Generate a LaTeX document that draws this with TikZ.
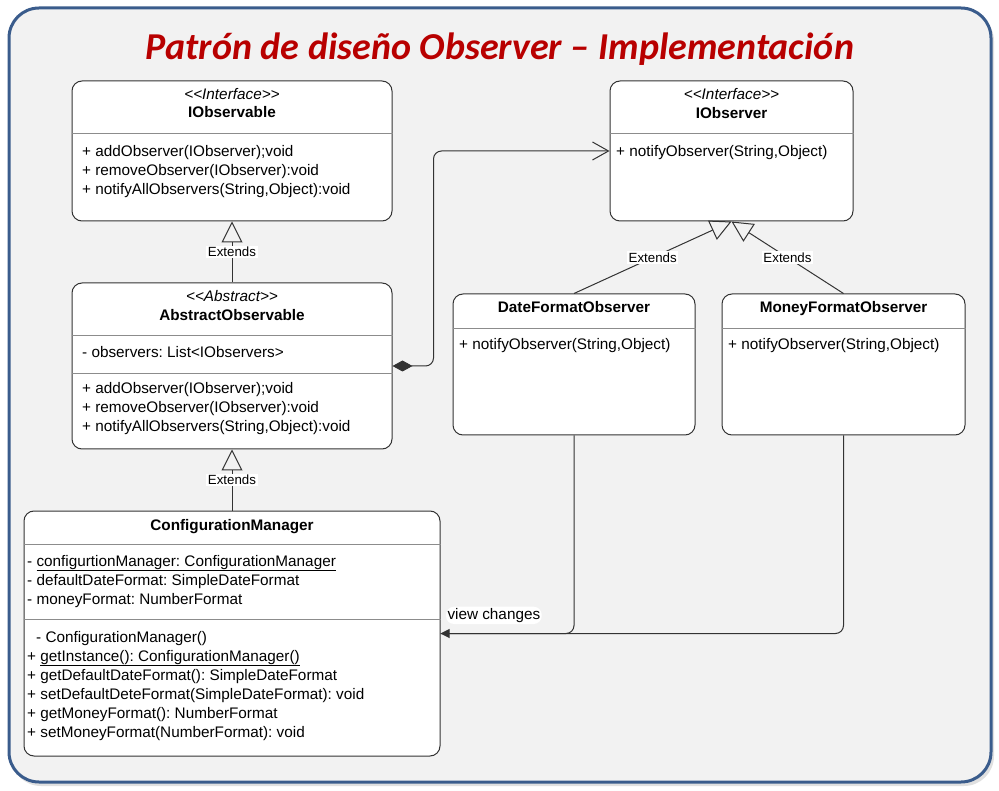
\documentclass[tikz,border=0pt]{standalone}
\usepackage{fontspec}
\setmainfont{Liberation Sans}
\newfontfamily\titlefont{Carlito}
\usetikzlibrary{arrows.meta}
\frenchspacing

\definecolor{framebg}{HTML}{F2F2F2}
\definecolor{frameline}{HTML}{3A5C8C}
\definecolor{titlered}{HTML}{B80000}
\definecolor{boxline}{HTML}{333333}
\definecolor{divline}{HTML}{8C8C8C}

\begin{document}
\begin{tikzpicture}[x=1pt, y=-1pt,
  every node/.style={font=\fontsize{15.3}{18}\selectfont},
  classbox/.style={draw=boxline, line width=1pt, fill=white, rounded corners=10pt, inner sep=0pt},
  divider/.style={draw=divline, line width=0.8pt},
  member/.style={anchor=base west, inner sep=0pt},
  stereotype/.style={anchor=base, inner sep=0pt, font=\fontsize{15.3}{18}\selectfont\itshape},
  classname/.style={anchor=base, inner sep=0pt, font=\fontsize{15.3}{18}\selectfont\bfseries},
  extends/.style={draw=boxline, line width=1pt, -{Triangle[open, length=21pt, width=21pt]}},
  extlabel/.style={fill=white, inner sep=1.5pt, font=\fontsize{13.3}{15}\selectfont},
  link/.style={draw=boxline, line width=1pt, rounded corners=8pt}
]
\useasboundingbox (0,0) rectangle (999,791);

% frame and title
\fill[black!12, rounded corners=30pt] (11,11) rectangle (994,786);
\draw[frameline, line width=3pt, fill=framebg, rounded corners=30pt] (9,8) rectangle (991,782);
\node (title) [anchor=base, text=titlered, font=\titlefont\fontsize{38}{40}\selectfont\bfseries\itshape] at (500,60) {Patrón de diseño Observer – Implementación};

% IObservable
\node (iobservable) [classbox, minimum width=320pt, minimum height=140pt] at (232,151) {};
\draw[divider] (iobservable.west |- 0,133) -- (iobservable.east |- 0,133);
\node (iobservable-st) [stereotype] at (232,100) {{<}{<}Interface{>}{>}};
\node (iobservable-nm) [classname] at (232,118) {IObservable};
\node (iobservable-m1) [member] at (82,157) {+ addObserver(IObserver);void};
\node (iobservable-m2) [member] at (82,176) {+ removeObserver(IObserver):void};
\node (iobservable-m3) [member] at (82,195) {+ notifyAllObservers(String,Object):void};

% IObserver
\node (iobserver) [classbox, minimum width=243pt, minimum height=140pt] at (731.5,151) {};
\draw[divider] (iobserver.west |- 0,133) -- (iobserver.east |- 0,133);
\node (iobserver-st) [stereotype] at (731.5,100) {{<}{<}Interface{>}{>}};
\node (iobserver-nm) [classname] at (731.5,119) {IObserver};
\node (iobserver-m1) [member] at (616,157) {+ notifyObserver(String,Object)};

% AbstractObservable
\node (aobs) [classbox, minimum width=320pt, minimum height=166pt] at (232,366) {};
\draw[divider] (aobs.west |- 0,335) -- (aobs.east |- 0,335);
\draw[divider] (aobs.west |- 0,373) -- (aobs.east |- 0,373);
\node (aobs-st) [stereotype] at (232,302) {{<}{<}Abstract{>}{>}};
\node (aobs-nm) [classname] at (232,321) {AbstractObservable};
\node (aobs-a1) [member] at (82,358) {- observers: List<IObservers>};
\node (aobs-m1) [member] at (82,394) {+ addObserver(IObserver);void};
\node (aobs-m2) [member] at (82,413) {+ removeObserver(IObserver):void};
\node (aobs-m3) [member] at (82,432) {+ notifyAllObservers(String,Object):void};

% DateFormatObserver
\node (dfo) [classbox, minimum width=242pt, minimum height=141pt] at (574,364.5) {};
\draw[divider] (dfo.west |- 0,328) -- (dfo.east |- 0,328);
\node (dfo-nm) [classname] at (574,313) {DateFormatObserver};
\node (dfo-m1) [member] at (459,350) {+ notifyObserver(String,Object)};

% MoneyFormatObserver
\node (mfo) [classbox, minimum width=243pt, minimum height=141pt] at (843.5,364.5) {};
\draw[divider] (mfo.west |- 0,328) -- (mfo.east |- 0,328);
\node (mfo-nm) [classname] at (843.5,313) {MoneyFormatObserver};
\node (mfo-m1) [member] at (728,350) {+ notifyObserver(String,Object)};

% ConfigurationManager
\node (cfgmgr) [classbox, minimum width=416pt, minimum height=245pt] at (232,633.5) {};
\draw[divider] (cfgmgr.west |- 0,544) -- (cfgmgr.east |- 0,544);
\draw[divider] (cfgmgr.west |- 0,619) -- (cfgmgr.east |- 0,619);
\node (cfgmgr-nm) [classname] at (232,530) {ConfigurationManager};
\node (cfgmgr-a1) [member] at (27,566) {- \underline{configurtionManager: ConfigurationManager}};
\node (cfgmgr-a2) [member] at (27,585) {- defaultDateFormat: SimpleDateFormat};
\node (cfgmgr-a3) [member] at (27,604) {- moneyFormat: NumberFormat};
\node (cfgmgr-m1) [member] at (36,642) {- ConfigurationManager()};
\node (cfgmgr-m2) [member] at (27,661) {+ \underline{getInstance(): ConfigurationManager()}};
\node (cfgmgr-m3) [member] at (27,680) {+ getDefaultDateFormat(): SimpleDateFormat};
\node (cfgmgr-m4) [member] at (27,699) {+ setDefaultDeteFormat(SimpleDateFormat): void};
\node (cfgmgr-m5) [member] at (27,718) {+ getMoneyFormat(): NumberFormat};
\node (cfgmgr-m6) [member] at (27,737) {+ setMoneyFormat(NumberFormat): void};

% relations
\draw[extends] (aobs.north) -- node (ext-aobs) [extlabel] {Extends} (iobservable.south);
\draw[extends] (cfgmgr.north) -- node (ext-cfgmgr) [extlabel] {Extends} (aobs.south);
\draw[extends] (dfo.north) -- node (ext-dfo) [extlabel] {Extends} (iobserver.south);
\draw[extends] (mfo.north) -- node (ext-mfo) [extlabel] {Extends} (iobserver.south);

\draw[link, {Diamond[length=20pt, width=11pt]}-{Straight Barb[length=16pt, width=18pt]}] (aobs.east) -- ++(41,0) |- (iobserver.west);

\draw[link, -{Triangle[length=9pt, width=9pt]}] (mfo.south) |- (cfgmgr.east);
\draw[link] (dfo.south) |- node (viewlbl) [pos=1, anchor=south west, xshift=5pt, yshift=9pt, fill=white, inner sep=1.5pt] {view changes} (cfgmgr.east);
\end{tikzpicture}
\end{document}
